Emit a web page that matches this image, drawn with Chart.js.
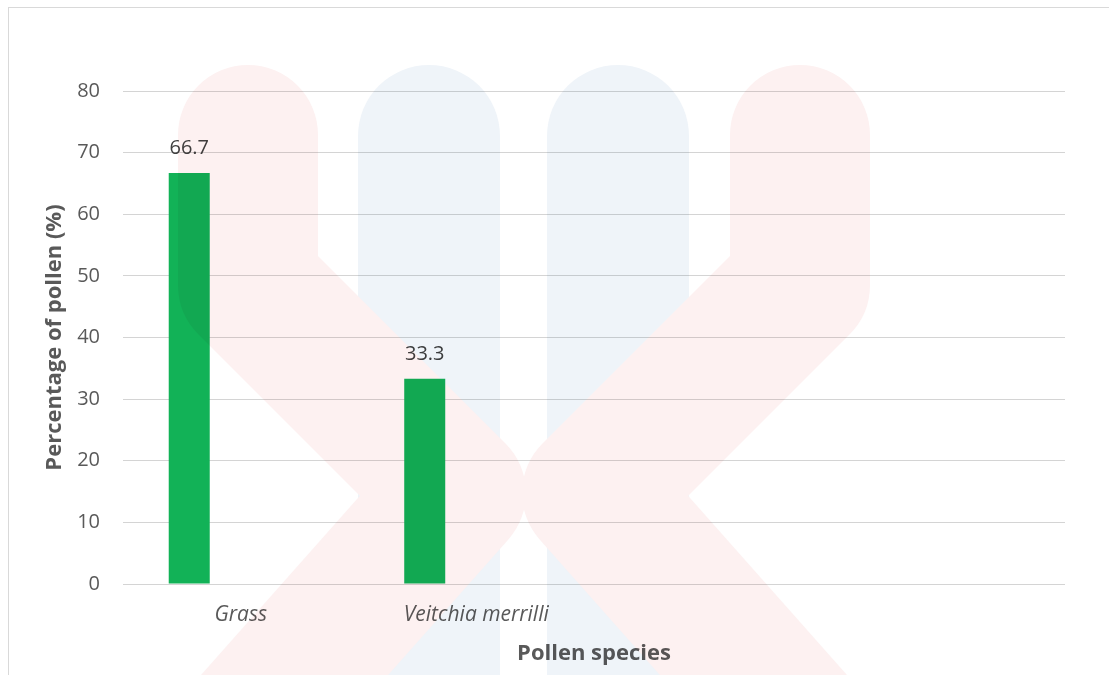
<!DOCTYPE html>
<html>
<head>
<meta charset="utf-8">
<script src="https://cdn.jsdelivr.net/npm/chart.js@4.4.1/dist/chart.umd.min.js"></script>
<style>
  html, body { margin: 0; padding: 0; background: #ffffff; }
  #wrap { width: 1109px; height: 675px; position: relative; overflow: hidden; }
  canvas { display: block; }
</style>
</head>
<body>
<div id="wrap"><canvas id="chart" width="1109" height="675"></canvas></div>
<script>
// Categories on the x axis (the last two slots are empty in the source table)
const categories = ['Grass', 'Veitchia merrilli', '', ''];
// Percentage of pollen per species
const pollenPercent = [66.7, 33.3, null, null];
// Second, empty column of the source table (keeps the bar in the first slot of each group)
const emptySeries = [null, null, null, null];
// Value axis range
const yMin = 0;
const yMax = 80;
const yStep = 10;

const FONT = '"Open Sans", "DejaVu Sans", sans-serif';
const TEXT_GREY = '#595959';

// Light frame around the chart area of the sheet
const framePlugin = {
  id: 'frame',
  beforeDraw(chart) {
    const ctx = chart.ctx;
    ctx.save();
    ctx.fillStyle = '#ffffff';
    ctx.fillRect(0, 0, chart.width, chart.height);
    ctx.strokeStyle = '#d9d9d9';
    ctx.lineWidth = 1;
    ctx.strokeRect(8.5, 7.5, 1400, 900);
    ctx.restore();
  }
};

// Value labels above each bar
const valueLabelPlugin = {
  id: 'valueLabels',
  afterDatasetsDraw(chart) {
    const ctx = chart.ctx;
    const meta = chart.getDatasetMeta(0);
    ctx.save();
    ctx.font = '20px ' + FONT;
    ctx.fillStyle = '#404040';
    ctx.textAlign = 'center';
    ctx.textBaseline = 'alphabetic';
    meta.data.forEach((bar, i) => {
      const v = pollenPercent[i];
      if (v === null || v === undefined) return;
      ctx.fillText(v.toFixed(1), bar.x, bar.y - 19);
    });
    ctx.restore();
  }
};

// Faint background emblem: painted on its own layer, then blended over the drawing
const emblemPlugin = {
  id: 'emblem',
  afterDraw(chart) {
    const layer = document.createElement('canvas');
    layer.width = chart.width;
    layer.height = chart.height;
    const g = layer.getContext('2d');
    g.fillStyle = '#ffffff';
    g.fillRect(0, 0, layer.width, layer.height);
    g.lineCap = 'round';
    g.lineJoin = 'round';

    // two blue pills
    g.strokeStyle = '#eff4f9';
    g.lineWidth = 142;
    [429, 618].forEach(x => {
      g.beginPath();
      g.moveTo(x, 136);
      g.lineTo(x, 900);
      g.stroke();
    });

    // two pink chevrons, mirrored
    g.strokeStyle = '#fdf1f1';
    g.lineWidth = 140;
    g.beginPath();
    g.moveTo(248, 135);
    g.lineTo(248, 285);
    g.lineTo(456, 493);
    g.lineTo(166, 820);
    g.stroke();

    g.beginPath();
    g.moveTo(800, 135);
    g.lineTo(800, 285);
    g.lineTo(592, 493);
    g.lineTo(882, 820);
    g.stroke();

    const ctx = chart.ctx;
    ctx.save();
    ctx.globalCompositeOperation = 'multiply';
    ctx.drawImage(layer, 0, 0);
    ctx.restore();
  }
};

new Chart(document.getElementById('chart'), {
  type: 'bar',
  data: {
    labels: categories,
    datasets: [
      {
        label: 'Percentage of pollen (%)',
        data: pollenPercent,
        backgroundColor: '#12b257',
        borderWidth: 0,
        categoryPercentage: 0.875,
        barPercentage: 0.398
      },
      {
        label: '',
        data: emptySeries,
        backgroundColor: '#12b257',
        borderWidth: 0,
        categoryPercentage: 0.875,
        barPercentage: 0.398
      }
    ]
  },
  options: {
    responsive: false,
    animation: false,
    devicePixelRatio: 1,
    layout: { padding: { left: 0, top: 91, right: 44, bottom: 0 } },
    plugins: {
      legend: { display: false },
      tooltip: { enabled: false },
      title: { display: false }
    },
    scales: {
      x: {
        grid: { display: false, drawTicks: false },
        border: { display: false },
        ticks: {
          color: TEXT_GREY,
          font: { family: FONT, size: 21, style: 'italic' },
          padding: 18,
          maxRotation: 0,
          autoSkip: false
        },
        title: {
          display: true,
          text: 'Pollen species',
          color: TEXT_GREY,
          font: { family: FONT, size: 22, weight: 'bold' },
          padding: { top: 0, bottom: 8 }
        },
        afterFit(scale) { scale.height = 91; }
      },
      y: {
        min: yMin,
        max: yMax,
        grid: { color: '#d4d4d4', lineWidth: 1, drawTicks: false },
        border: { display: false },
        ticks: {
          stepSize: yStep,
          color: TEXT_GREY,
          font: { family: FONT, size: 20 },
          padding: 23
        },
        title: {
          display: true,
          text: 'Percentage of pollen (%)',
          color: TEXT_GREY,
          font: { family: FONT, size: 22, weight: 'bold' },
          padding: { top: 42, bottom: 0 }
        },
        afterFit(scale) { scale.width = 123; }
      }
    }
  },
  plugins: [framePlugin, valueLabelPlugin, emblemPlugin]
});
</script>
</body>
</html>
